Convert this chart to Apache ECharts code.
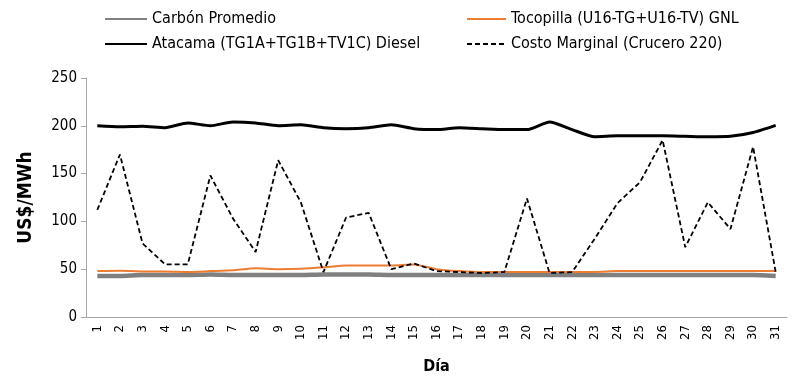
<!DOCTYPE html>
<html><head><meta charset="utf-8">
<script src="https://cdn.jsdelivr.net/npm/echarts@6/dist/echarts.min.js"></script>
<style>html,body{margin:0;padding:0;background:#fff}#c{width:797px;height:381px}</style>
</head><body><div id="c"></div>
<script>
const days = ['1','2','3','4','5','6','7','8','9','10','11','12','13','14','15','16','17','18','19','20','21','22','23','24','25','26','27','28','29','30','31'];
const yTicks = [0,50,100,150,200,250];
const carbon = [43,43,44,44,44,44.5,44,44,44,44,44.5,44.5,44.5,44,44,44,44,44,44,44,44,44,44,44,44,44,44,44,44,44,43];
const tocopilla = [48,48.5,47.5,47.5,47,48,49,51,50,50.5,52,54,54,54,55,50,48,47,47,47,47,47,47,48,48,48,48,48,48,48,48];
const atacama = [200,199,199.5,198,203,200,204,203,200,201,198,197,198,201,197,196,198,197,196,196,204,196,188.5,189.5,189.5,189.5,189,188.5,189,193,200.5];
const marginal = [112,170,77,55,55,148,103,68,164,120,47,104,109,50,56,48,47,46,47,124,46,47,82,119,141,185,73,120,92,178,47];

const names = ['Carbón Promedio','Tocopilla (U16-TG+U16-TV) GNL','Atacama (TG1A+TG1B+TV1C) Diesel','Costo Marginal (Crucero 220)'];
const FONT = '"DejaVu Sans Condensed","Liberation Sans Narrow",sans-serif';
const chart = echarts.init(document.getElementById('c'));
const legendText = {fontFamily: FONT, fontSize: 16, color: '#000'};
chart.setOption({
  animation: false,
  textStyle: {fontFamily: FONT},
  legend: [
    {left: 104, top: 11, padding: 0, orient: 'vertical', itemGap: 9, itemWidth: 42, itemHeight: 14, textStyle: legendText,
     itemStyle: {opacity: 0}, data: [{name: names[0]}, {name: names[2]}]},
    {left: 466, top: 11, padding: 0, orient: 'vertical', itemGap: 9, itemWidth: 39, itemHeight: 14, textStyle: legendText,
     itemStyle: {opacity: 0}, data: [{name: names[1]}, {name: names[3]}]}
  ],
  grid: {left: 86, right: 10, top: 78, bottom: 64},
  xAxis: {
    type: 'category', data: days, boundaryGap: true,
    name: 'Día', nameLocation: 'middle', nameGap: 42,
    nameTextStyle: {fontFamily: FONT, fontSize: 16, fontWeight: 'bold', color: '#000'},
    axisLine: {lineStyle: {color: '#a6a6a6'}},
    axisTick: {show: false},
    axisLabel: {rotate: 90, interval: 0, fontFamily: FONT, fontSize: 13, color: '#000', margin: 8}
  },
  yAxis: {
    type: 'value', min: 0, max: 250, interval: 50,
    name: 'US$/MWh', nameLocation: 'middle', nameGap: 50,
    nameTextStyle: {fontFamily: FONT, fontSize: 19, fontWeight: 'bold', color: '#000'},
    axisLine: {show: true, lineStyle: {color: '#a6a6a6'}},
    axisTick: {show: true, length: 5, lineStyle: {color: '#a6a6a6'}},
    splitLine: {show: false},
    axisLabel: {fontFamily: FONT, fontSize: 15, color: '#000', margin: 9,
      formatter: v => yTicks.includes(v) ? String(v) : ''}
  },
  series: [
    {name: names[0], type: 'line', data: carbon, symbol: 'none', smooth: 0.2,
     lineStyle: {color: '#808080', width: 4.5}, itemStyle: {color: '#808080'}, z: 2},
    {name: names[1], type: 'line', data: tocopilla, symbol: 'none', smooth: 0.2,
     lineStyle: {color: '#ed7d31', width: 2}, itemStyle: {color: '#ed7d31'}, z: 3},
    {name: names[2], type: 'line', data: atacama, symbol: 'none', smooth: 0.2,
     lineStyle: {color: '#000', width: 3}, itemStyle: {color: '#000'}, z: 4},
    {name: names[3], type: 'line', data: marginal, symbol: 'none',
     lineStyle: {color: '#000', width: 1.8, type: [5, 3]}, itemStyle: {color: '#000'}, z: 5}
  ]
});
</script></body></html>
